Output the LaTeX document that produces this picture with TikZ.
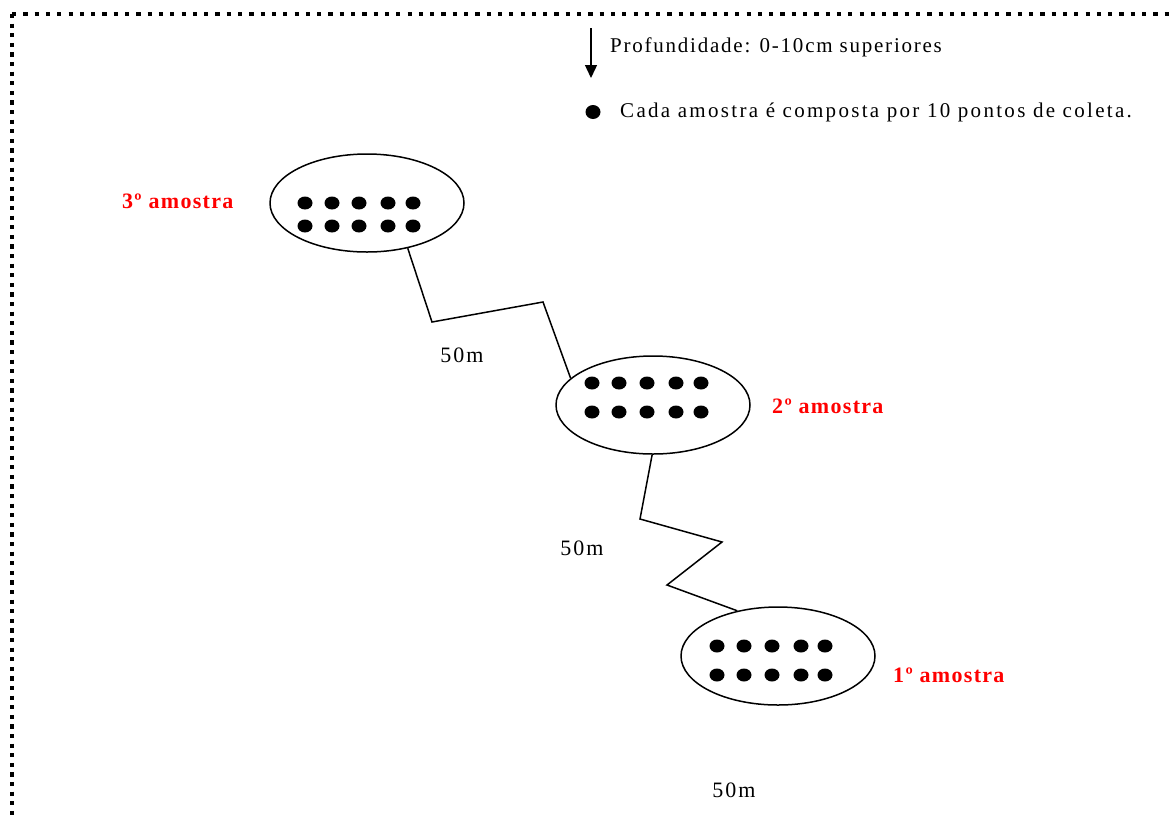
\documentclass[tikz,border=0pt]{standalone}
\usepackage{fontspec}
\setmainfont{Liberation Serif}
\usetikzlibrary{shapes.geometric,arrows.meta}
\definecolor{labelred}{RGB}{255,0,0}
\tikzset{
  site/.style={draw, line width=1.5pt, ellipse, inner sep=0pt,
               minimum width=194pt, minimum height=98pt},
  route/.style={line width=1.5pt, line join=miter},
  body/.style={inner sep=0pt, font=\fontsize{21}{24}\selectfont\addfontfeature{LetterSpace=#1}},
  body/.default=8,
  dist/.style={inner sep=0pt, font=\fontsize{22}{25}\selectfont\addfontfeature{LetterSpace=9}},
  tag/.style={inner sep=0pt, text=labelred, font=\fontsize{22}{25}\selectfont\bfseries\addfontfeature{LetterSpace=6}},
  frame/.style={line width=4.2pt},
}
\begin{document}
\begin{tikzpicture}[x=1pt, y=-1pt]
\useasboundingbox (0,0) rectangle (1169,815);

% dotted frame along the top and left edges
\draw[frame, dash pattern=on 4.2pt off 7.1pt] (12,14) -- (1172,14);
\draw[frame, dash pattern=on 4.2pt off 5.4pt] (12,14) -- (12,818);

% legend
\coordinate (arrtop) at (591,28);
\coordinate (arrbot) at (591,78);
\draw[line width=1.4pt, -{Triangle[width=12pt,length=13pt]}] (arrtop) -- (arrbot);
\node[body=8.4, anchor=west] (depth) at (610,47) {Profundidade: 0-10cm superiores};
\fill (593,112) ellipse [x radius=7.5, y radius=7];
\node[body=11, anchor=west] (note) at (620,112) {Cada amostra é composta por 10 pontos de coleta.};

% sampling sites
\node[site] (s3) at (367,203) {};
\node[site] (s2) at (653,405) {};
\node[site] (s1) at (778,656) {};

% ten collection points in each site
\foreach \x in {305,332,359,388,413} {
  \fill (\x,203) ellipse [x radius=7.5, y radius=6.5];
  \fill (\x,226) ellipse [x radius=7.5, y radius=6.5];
}
\foreach \x in {592,619,647,676,701} {
  \fill (\x,383) ellipse [x radius=7.5, y radius=6.5];
  \fill (\x,412) ellipse [x radius=7.5, y radius=6.5];
}
\foreach \x in {717,744,772,801,825} {
  \fill (\x,646) ellipse [x radius=7.5, y radius=6.5];
  \fill (\x,675) ellipse [x radius=7.5, y radius=6.5];
}

% site labels
\node[tag, anchor=west] (t3) at (122,201) {3º amostra};
\node[tag, anchor=west] (t2) at (772,406) {2º amostra};
\node[tag, anchor=west] (t1) at (893,675) {1º amostra};

% walking routes between sites
\coordinate (a1) at (432,322);
\coordinate (a2) at (543,302);
\draw[route] (s3.-48) -- (a1) -- (a2) -- (s2.162);
\coordinate (b1) at (640,519);
\coordinate (b2) at (722,542);
\coordinate (b3) at (667,585);
\draw[route] (s2.-91) -- (b1) -- (b2) -- (b3) -- (s1.132);

% distances
\node[dist] (d1) at (462,355) {50m};
\node[dist] (d2) at (582,548) {50m};
\node[dist] (d3) at (734,790) {50m};
\end{tikzpicture}
\end{document}
